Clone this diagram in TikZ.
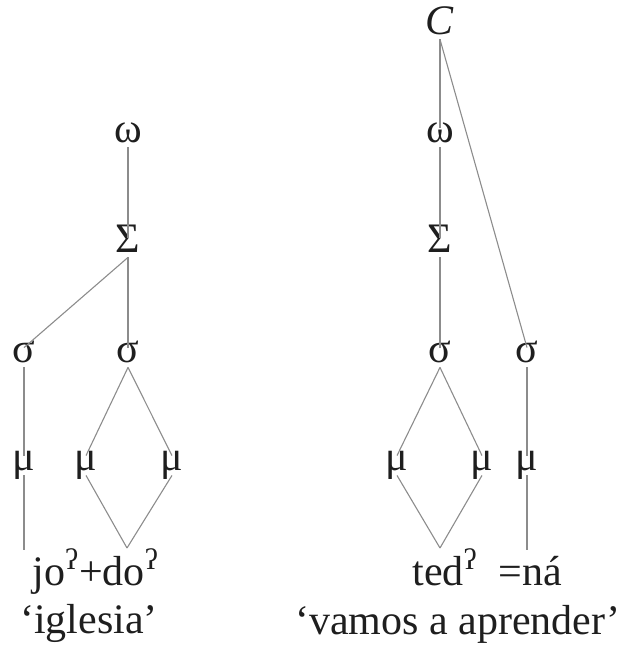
\documentclass[tikz,border=0pt]{standalone}
\usepackage{fontspec}
\setmainfont{Liberation Serif}
\usepackage{xcolor}
\usepackage{tikz}
\usetikzlibrary{positioning}
\definecolor{mink}{RGB}{30,30,30}
\definecolor{mline}{RGB}{140,140,140}

\begin{document}
\begin{tikzpicture}[x=0.5pt, y=-0.5pt,
  font=\fontsize{21pt}{25pt}\selectfont,
  seg/.style={inner sep=0pt, text height=0.7em, text depth=0.25em, anchor=base, text=mink},
  word/.style={inner sep=0pt, anchor=base west, text=mink},
  gloss/.style={inner sep=0pt, anchor=base, text=mink},
  branch/.style={draw=mline, line width=0.55pt}]

  \useasboundingbox (0,0) rectangle (629,650);

  % ── LEFT ── jo?+do?
  \node[seg] (w1) at (128,142) {ω};
  \node[seg] (S1) at (128,252) {Σ};
  \node[seg] (s1) at (24,362)  {σ};
  \node[seg] (s2) at (128,362) {σ};
  \node[seg] (m1) at (24,470)  {μ};
  \node[seg] (m2) at (86,470)  {μ};
  \node[seg] (m3) at (172,470) {μ};
  \coordinate (b1) at (24,550);
  \coordinate (b2) at (127,548);

  \draw[branch] (w1.south) -- (S1.north);
  \draw[branch] (S1.south) -- (s1.north);
  \draw[branch] (S1.south) -- (s2.north);
  \draw[branch] (s1.south) -- (m1.north);
  \draw[branch] (s2.south) -- (m2.north);
  \draw[branch] (s2.south) -- (m3.north);
  \draw[branch] (m1.south) -- (b1);
  \draw[branch] (m2.south) -- (b2);
  \draw[branch] (m3.south) -- (b2);

  \node[word] (jodo) at (32,585) {jo\textsuperscript{ʔ}+do\textsuperscript{ʔ}};
  \node[gloss] (iglesia) at (89,633) {`iglesia'};

  % ── RIGHT ── ted? =ná
  \node[seg] (C)  at (440,34)  {\textit{C}};
  \node[seg] (w2) at (440,142) {ω};
  \node[seg] (S2) at (440,252) {Σ};
  \node[seg] (s3) at (440,362) {σ};
  \node[seg] (s4) at (527,362) {σ};
  \node[seg] (m4) at (397,470) {μ};
  \node[seg] (m5) at (482,470) {μ};
  \node[seg] (m6) at (527,470) {μ};
  \coordinate (b3) at (440,548);
  \coordinate (b4) at (527,550);

  \draw[branch] (C.south) -- (w2.north);
  \draw[branch] (C.south) -- (s4.north);
  \draw[branch] (w2.south) -- (S2.north);
  \draw[branch] (S2.south) -- (s3.north);
  \draw[branch] (s3.south) -- (m4.north);
  \draw[branch] (s3.south) -- (m5.north);
  \draw[branch] (s4.south) -- (m6.north);
  \draw[branch] (m4.south) -- (b3);
  \draw[branch] (m5.south) -- (b3);
  \draw[branch] (m6.south) -- (b4);

  \node[word] (ted) at (412,585) {ted\textsuperscript{ʔ}};
  \node[word] (na)  at (498,585) {=ná};
  \node[gloss] (vamos) at (458,634) {`vamos a aprender'};

\end{tikzpicture}
\end{document}
